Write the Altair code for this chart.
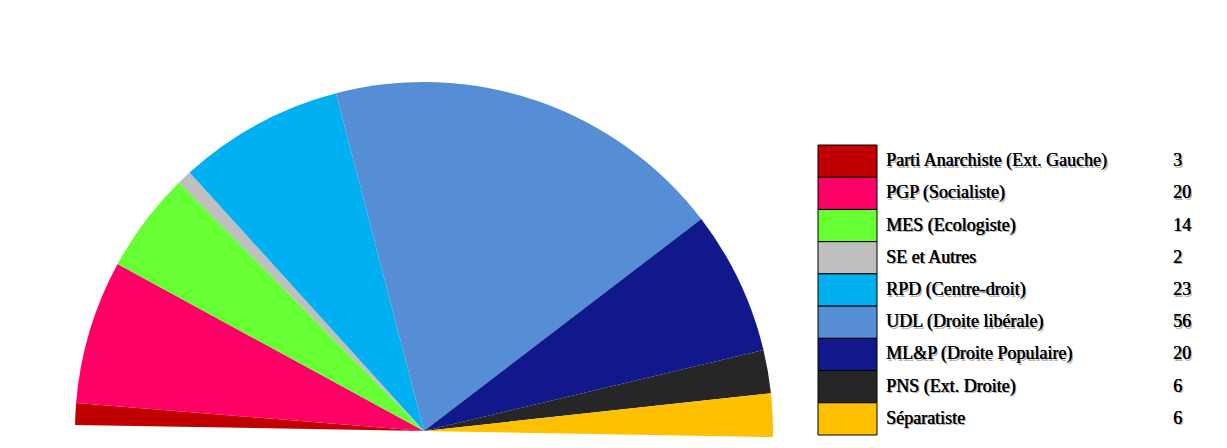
import math
import altair as alt
import pandas as pd

parties = [
    "Parti Anarchiste (Ext. Gauche)",
    "PGP (Socialiste)",
    "MES (Ecologiste)",
    "SE et Autres",
    "RPD (Centre-droit)",
    "UDL (Droite libérale)",
    "ML&P (Droite Populaire)",
    "PNS (Ext. Droite)",
    "Séparatiste",
]
seats = [3, 20, 14, 2, 23, 56, 20, 6, 6]
colors = ["#C00000", "#FF0066", "#66FF33", "#BFBFBF", "#00B0F0",
          "#558ED5", "#10188C", "#262626", "#FFC000"]

df = pd.DataFrame({"party": parties, "seats": seats, "order": list(range(len(parties)))})
df["seats_label"] = df["seats"].astype(str)

start = math.radians(-89)
end = math.radians(91)

color = alt.Color("party:N", scale=alt.Scale(domain=parties, range=colors), legend=None)

pie = alt.Chart(df).mark_arc(radius=349, stroke=None).encode(
    theta=alt.Theta("seats:Q", stack=True, scale=alt.Scale(range=[start, end])),
    order=alt.Order("order:Q"),
    color=color,
    x=alt.value(416),
    y=alt.value(423),
)

yscale = alt.Scale(domain=parties, range=[137, 427], paddingInner=0, paddingOuter=0)

boxes = alt.Chart(df).mark_rect(stroke="black", strokeWidth=1).encode(
    y=alt.Y("party:N", sort=parties, scale=yscale, axis=None),
    x=alt.value(810),
    x2=alt.value(869),
    color=color,
)

font = "Liberation Serif"
fs = 18

def txt(field, xpos, col, dx=0, dy=0, opacity=1.0):
    return alt.Chart(df).mark_text(
        align="left", baseline="middle", font=font, fontSize=fs,
        color=col, dx=dx, dy=dy, opacity=opacity,
    ).encode(
        y=alt.Y("party:N", sort=parties, scale=yscale, axis=None),
        x=alt.value(xpos),
        text=alt.Text(field),
    )

layers = [
    pie, boxes,
    txt("party:N", 878, "#7a7a7a", 1.5, 1.5, 0.6), txt("party:N", 878, "#000000"),
    txt("party:N", 878, "#000000", 0.4, 0),
    txt("seats_label:N", 1165, "#7a7a7a", 1.5, 1.5, 0.6), txt("seats_label:N", 1165, "#000000"),
    txt("seats_label:N", 1165, "#000000", 0.4, 0),
]

chart = alt.layer(*layers).properties(
    width=1211, height=432, padding=0
).configure_view(stroke=None)

chart.save("out.html", embed_options={"renderer": "svg", "actions": False})
